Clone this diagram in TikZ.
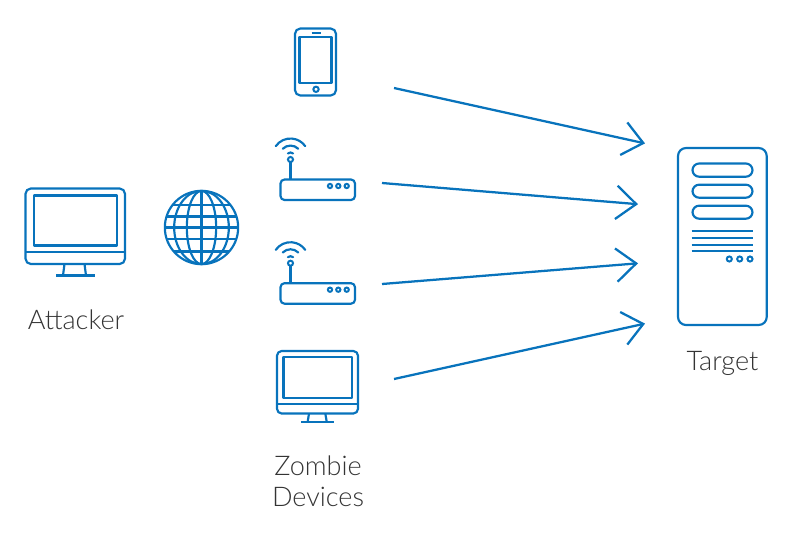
\documentclass[tikz,border=0pt]{standalone}
\usepackage{fontspec}
\setmainfont{Lato Light}
\usetikzlibrary{arrows.meta}
\definecolor{netblue}{RGB}{8,115,188}
\definecolor{labelgray}{RGB}{52,52,52}
\tikzset{
  x=0.75pt, y=-0.75pt,
  icon/.style={draw=netblue, line width=1.62pt, line join=round},
  thin icon/.style={draw=netblue, line width=1.5pt},
  attack/.style={draw=netblue, line width=1.7pt, -{Straight Barb[length=15pt,width=25pt,line width=1.7pt]}},
  caption/.style={text=labelgray, font=\fontsize{20.3}{24}\selectfont, align=center, inner sep=0pt, anchor=base},
  router/.pic={
    \draw[icon, rounded corners=3pt] (280.5,179.5) rectangle (355,200);
    \draw[thin icon, fill=white] (330,186) circle[radius=1.6pt];
    \draw[thin icon, fill=white] (338.3,186) circle[radius=1.6pt];
    \draw[thin icon, fill=white] (346.7,186) circle[radius=1.6pt];
    \draw[icon] (290.5,179.5) -- (290.5,162);
    \draw[thin icon] (290.5,159.5) circle[radius=1.9pt];
    \coordinate (w) at (290.5,156.5);
    \draw[icon, line cap=round] ([shift={(145:13.5pt)}]w) arc[start angle=145, end angle=35, radius=13.5pt];
    \draw[icon, line cap=round] ([shift={(135:8.2pt)}]w) arc[start angle=135, end angle=45, radius=8.2pt];
    \draw[icon, line cap=round] ([shift={(130:3pt)}]w) arc[start angle=130, end angle=50, radius=3pt];
  }
}
\begin{document}
\begin{tikzpicture}
\useasboundingbox (0,0) rectangle (800,536);

% attacker workstation
\draw[icon, rounded corners=4pt] (25.5,188.5) rectangle (125,264);
\draw[icon] (34,195.5) rectangle (117,245.5);
\draw[icon] (25.5,252) -- (125,252);
\draw[icon] (64.5,264) -- (63,275.5);
\draw[icon] (84.5,264) -- (86,275.5);
\draw[icon] (56,275.5) -- (95,275.5);

% globe
\coordinate (g) at (201.5,227.5);
\draw[icon] (g) circle[radius=27.5pt];
\draw[icon] (g) circle[x radius=20.5pt, y radius=27.5pt];
\draw[icon] (g) circle[x radius=11pt, y radius=27.5pt];
\draw[icon] (201.5,191) -- (201.5,264);
\begin{scope}
  \clip (g) circle[radius=27.5pt];
  \foreach \yy in {205,216.5,227.5,239,251.5}
    \draw[icon] (160,\yy) -- (243,\yy);
\end{scope}

% phone
\draw[icon, rounded corners=4pt] (295,28.5) rectangle (336,95.5);
\draw[icon] (299.5,37) rectangle (331.5,83.3);
\draw[icon] (311.5,33.3) -- (321,33.3);
\draw[thin icon] (316,89.3) circle[radius=2pt];

% routers
\pic at (0,0) {router};
\pic at (0,103.7) {router};

% zombie workstation
\draw[icon, rounded corners=3.5pt] (277,351) rectangle (358,413.5);
\draw[icon] (283.5,357.3) rectangle (352,398.3);
\draw[icon] (277,404) -- (358,404);
\draw[icon] (309,413.5) -- (307.7,421.7);
\draw[icon] (325.3,413.5) -- (326.7,421.7);
\draw[icon] (301,421.7) -- (334,421.7);

% target server
\draw[icon, rounded corners=6pt] (678,148) rectangle (766.7,325);
\draw[icon, rounded corners=5pt] (692.5,163.5) rectangle (752.5,176.7);
\draw[icon, rounded corners=5pt] (692.5,184.7) rectangle (752.5,197.7);
\draw[icon, rounded corners=5pt] (692.5,205.7) rectangle (752.5,218.7);
\foreach \yy in {231.3,238,244.7,251}
  \draw[icon] (691.7,\yy) -- (753.3,\yy);
\foreach \xx in {729.3,739.7,750}
  \draw[thin icon] (\xx,259) circle[radius=1.9pt];

% traffic towards the target
\coordinate (s1) at (394,88);    \coordinate (t1) at (645,143.4);
\coordinate (s2) at (382,183);   \coordinate (t2) at (638,204.2);
\coordinate (s3) at (382,284);   \coordinate (t3) at (638,263.3);
\coordinate (s4) at (394,379);   \coordinate (t4) at (645,323.6);
\draw[attack] (s1) -- (t1);
\draw[attack] (s2) -- (t2);
\draw[attack] (s3) -- (t3);
\draw[attack] (s4) -- (t4);

% labels
\node[caption] (attacker) at (76,329) {Attacker};
\node[caption] (zombie) at (318,475) {Zombie};
\node[caption] (devices) at (318,506) {Devices};
\node[caption] (target) at (722.5,370.5) {Target};
\end{tikzpicture}
\end{document}
